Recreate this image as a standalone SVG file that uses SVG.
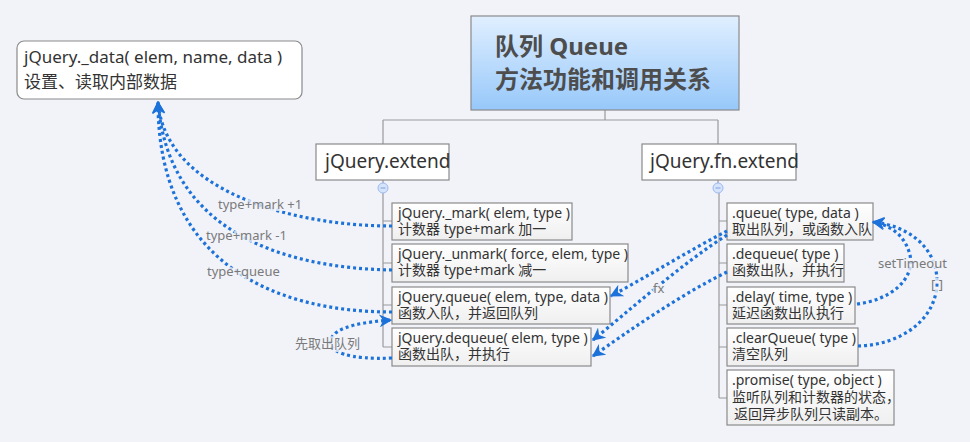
<svg xmlns="http://www.w3.org/2000/svg" width="970" height="442" viewBox="0 0 970 442">
<style>
text{font-family:"Noto Sans","Noto Sans CJK SC",sans-serif;}
.tree{stroke:#9a9a9a;stroke-width:1.2;fill:none}
.box{fill:url(#boxg);stroke:#8a8a8a;stroke-width:1.2}
.node{fill:#fff;stroke:#8a8a8a;stroke-width:1.2}
.t{font-size:14px;fill:#333}
.n{font-size:19px;fill:#333}
.dot{fill:none;stroke:#1d72da;stroke-width:3.2;stroke-dasharray:3 3}
.lbl{font-size:13px;fill:#7a7a7a;paint-order:stroke;stroke:#f1f3f9;stroke-width:4;stroke-opacity:0.8}
.col{fill:#d6e4fb;stroke:#9bb9ee;stroke-width:1}
</style>
<defs>
<linearGradient id="rootg" x1="0" y1="0" x2="0" y2="1"><stop offset="0" stop-color="#e0efff"/><stop offset="1" stop-color="#97c8fa"/></linearGradient>
<linearGradient id="boxg" x1="0" y1="0" x2="0" y2="1"><stop offset="0" stop-color="#ffffff"/><stop offset="1" stop-color="#efefef"/></linearGradient>
<marker id="arr" viewBox="0 0 10 10" refX="9" refY="5" markerUnits="userSpaceOnUse" markerWidth="13" markerHeight="13" orient="auto"><path d="M0,0 L10,5 L0,10 L3,5 z" fill="#1d72da"/></marker>
</defs>
<rect width="970" height="442" fill="#f1f3f9"/>

<g id="tree-lines">
<path class="tree" d="M605,110 V120 M383,120 H718 M383,120 V144 M718,120 V144 M383,180 V183 M718,180 V183"/>
<path class="tree" d="M383,193 V347 M383,221 H392 M383,263 H392 M383,305 H392 M383,347 H392"/>
<path class="tree" d="M719,193 V398 M719,221 H727 M719,263 H727 M719,305 H727 M719,347 H727 M719,398 H727"/>
</g>

<g id="root">
<rect x="471" y="16" width="268" height="94" fill="url(#rootg)" stroke="#8a8a8a" stroke-width="1.2"/>
<text x="495" y="55" font-size="24" font-weight="bold" fill="#4d4d4d">队列 Queue</text>
<text x="495" y="88" font-size="24" font-weight="bold" fill="#4d4d4d">方法功能和调用关系</text>
</g>

<g id="data">
<rect x="17" y="41" width="285" height="58" rx="7" fill="#fff" stroke="#8a8a8a" stroke-width="1.2"/>
<text x="24" y="63" font-size="17" fill="#333">jQuery._data( elem, name, data )</text>
<text x="24" y="88" font-size="17" fill="#333">设置、读取内部数据</text>
</g>

<g id="extend">
<rect class="node" x="316" y="144" width="133" height="36"/>
<text class="n" x="325" y="168">jQuery.extend</text>
<circle class="col" cx="383" cy="188" r="5"/><path d="M380.5,188 H385.5" stroke="#7f9fe0" stroke-width="1"/>
</g>

<g id="fnextend">
<rect class="node" x="642" y="144" width="154" height="36"/>
<text class="n" x="650" y="168">jQuery.fn.extend</text>
<circle class="col" cx="718" cy="188" r="5"/><path d="M715.5,188 H720.5" stroke="#7f9fe0" stroke-width="1"/>
</g>

<g id="mark">
<rect class="box" x="392" y="203" width="180" height="37"/>
<text class="t" x="398" y="218">jQuery._mark( elem, type )</text>
<text class="t" x="398" y="234">计数器 type+mark 加一</text>
</g>
<g id="unmark">
<rect class="box" x="392" y="244" width="236" height="38"/>
<text class="t" x="398" y="259">jQuery._unmark( force, elem, type )</text>
<text class="t" x="398" y="275">计数器 type+mark 减一</text>
</g>
<g id="queue">
<rect class="box" x="392" y="287" width="218" height="37"/>
<text class="t" x="398" y="302">jQuery.queue( elem, type, data )</text>
<text class="t" x="398" y="318">函数入队，并返回队列</text>
</g>
<g id="dequeue">
<rect class="box" x="392" y="328" width="199" height="38"/>
<text class="t" x="398" y="343">jQuery.dequeue( elem, type )</text>
<text class="t" x="398" y="359">函数出队，并执行</text>
</g>

<g id="fn-queue">
<rect class="box" x="727" y="203" width="146" height="37"/>
<text class="t" x="732" y="218">.queue( type, data )</text>
<text class="t" x="732" y="234">取出队列，或函数入队</text>
</g>
<g id="fn-dequeue">
<rect class="box" x="727" y="244" width="117" height="38"/>
<text class="t" x="732" y="259">.dequeue( type )</text>
<text class="t" x="732" y="275">函数出队，并执行</text>
</g>
<g id="fn-delay">
<rect class="box" x="727" y="287" width="128" height="37"/>
<text class="t" x="732" y="302">.delay( time, type )</text>
<text class="t" x="732" y="318">延迟函数出队执行</text>
</g>
<g id="fn-clearqueue">
<rect class="box" x="727" y="328" width="131" height="38"/>
<text class="t" x="732" y="343">.clearQueue( type )</text>
<text class="t" x="732" y="359">清空队列</text>
</g>
<g id="fn-promise">
<rect class="box" x="727" y="370" width="167" height="55"/>
<text class="t" x="732" y="385">.promise( type, object )</text>
<text class="t" x="732" y="402">监听队列和计数器的状态，</text>
<text class="t" x="734" y="419">返回异步队列只读副本。</text>
</g>

<g id="connectors">
<path class="dot" d="M392,226 C290,226 165,190 158,102" marker-end="url(#arr)"/>
<path class="dot" d="M392,270 C280,268 168,230 158,102" marker-end="url(#arr)"/>
<path class="dot" d="M392,312 C270,312 158,260 158,102" marker-end="url(#arr)"/>
<path class="dot" d="M392,358 C350,360 326,352 331,339 C336,326 365,322 391,320" marker-end="url(#arr)"/>
<path class="dot" d="M727,231 C690,250 650,275 611,296" marker-end="url(#arr)"/>
<path class="dot" d="M727,235 C680,265 630,310 593,340" marker-end="url(#arr)"/>
<path class="dot" d="M727,272 C680,295 630,330 593,356" marker-end="url(#arr)"/>
<path class="dot" d="M857,304 C890,300 915,280 910,255 C905,235 890,225 873,222" marker-end="url(#arr)"/>
<path class="dot" d="M858,346 C900,345 938,320 937,280 C936,245 905,225 873,222" marker-end="url(#arr)"/>
<text class="lbl" x="218" y="209">type+mark +1</text>
<text class="lbl" x="206" y="240">type+mark -1</text>
<text class="lbl" x="207" y="276">type+queue</text>
<text class="lbl" x="295" y="348">先取出队列</text>
<text class="lbl" x="653" y="293">fx</text>
<text class="lbl" x="878" y="268">setTimeout</text>
<text class="lbl" x="931" y="289">[ ]</text>
</g>
</svg>
